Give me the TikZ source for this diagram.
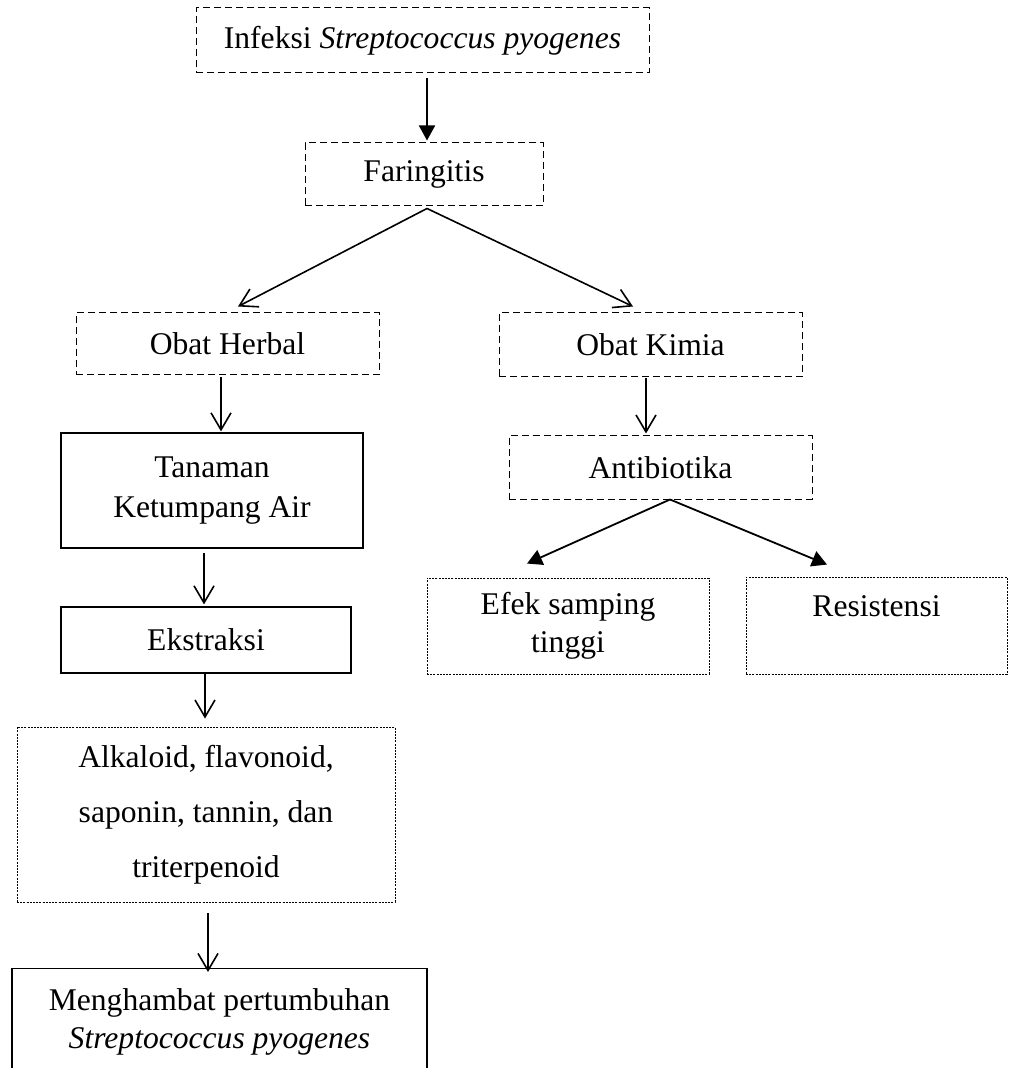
\documentclass[tikz,border=0pt]{standalone}
\usepackage{fontspec}
\setmainfont{Liberation Serif}
\usetikzlibrary{arrows.meta, positioning, calc}

\begin{document}
\begin{tikzpicture}[x=0.5pt, y=-0.5pt,
    box/.style={draw, line width=0.6pt, inner sep=0pt, align=center,
        font=\fontsize{15.8pt}{19pt}\selectfont},
    dashbox/.style={box, line width=0.5pt, dash pattern=on 3.5pt off 2pt},
    dotbox/.style={box, line width=0.45pt, dash pattern=on 1pt off 0.6pt},
    open/.style={-{Straight Barb[length=8.5pt, width=10pt]}, line width=0.8pt},
    fillarrow/.style={-{Triangle[length=7.5pt, width=8pt]}, line width=0.9pt}]

    \useasboundingbox (0,0) rectangle (1008,1068);

    % top of the chart
    \node[dashbox, minimum width=226.5pt, minimum height=32.5pt] (infeksi) at (422.5,40.5)
        {Infeksi \textit{Streptococcus pyogenes}};
    \node[dashbox, minimum width=119pt, minimum height=31.5pt] (fari) at (424,174.5) {Faringitis};

    % left branch: herbal
    \node[dashbox, minimum width=151.5pt, minimum height=31pt] (herbal) at (227.5,344) {Obat Herbal};
    \node[box, minimum width=151pt, minimum height=57.5pt,
        font=\fontsize{15.8pt}{20pt}\selectfont] (tanaman) at (212,490.5) {Tanaman\\Ketumpang Air};
    \node[box, minimum width=145pt, minimum height=33pt] (ekstr) at (206,640) {Ekstraksi};
    \node[dotbox, minimum width=189pt, minimum height=87.5pt,
        font=\fontsize{15.8pt}{27.5pt}\selectfont] (senyawa) at (206,814.5)
        {Alkaloid, flavonoid,\\saponin, tannin, dan\\triterpenoid};
    \node[box, anchor=north, minimum width=207.5pt, inner ysep=10pt] (hambat) at (219.5,968)
        {Menghambat pertumbuhan\\\textit{Streptococcus pyogenes}};

    % right branch: kimia
    \node[dashbox, minimum width=151.5pt, minimum height=32pt] (kimia) at (650.5,345) {Obat Kimia};
    \node[dashbox, minimum width=151.5pt, minimum height=31.5pt] (antibio) at (660.5,467.5) {Antibiotika};
    \node[dotbox, minimum width=141pt, minimum height=48pt] (efek) at (568,626) {Efek samping\\tinggi};
    \node[dotbox, minimum width=130.5pt, minimum height=48.5pt] (resist) at (876.5,625.5) {Resistensi\\\mbox{}};

    % connectors
    \draw[fillarrow] ($(infeksi.south)+(4.5,5)$) -- ($(fari.north)+(3,-2)$);
    \draw[open] ($(fari.south)+(3,2)$) -- ($(herbal.north)+(10.5,-6)$);
    \draw[open] ($(fari.south)+(3,2)$) -- ($(kimia.north)+(-17.5,-6)$);
    \draw[open] ($(herbal.south)+(-6.5,2)$) -- ($(tanaman.north)+(9,-1)$);
    \draw[open] ($(tanaman.south)+(-8,4)$) -- ($(ekstr.north)+(-2,-2)$);
    \draw[open] ($(ekstr.south)+(-1,0)$) -- ($(senyawa.north)+(-1,-8)$);
    \draw[open] ($(senyawa.south)+(2,11)$) -- ($(hambat.north)+(-11.5,4)$);
    \draw[open] ($(kimia.south)+(-4.5,1)$) -- ($(antibio.north)+(-14.5,-2)$);
    \draw[fillarrow] ($(antibio.south)+(9.5,0)$) -- ($(efek.north)+(-41,-14)$);
    \draw[fillarrow] ($(antibio.south)+(9.5,0)$) -- ($(resist.north)+(-49.5,-12)$);
\end{tikzpicture}
\end{document}
